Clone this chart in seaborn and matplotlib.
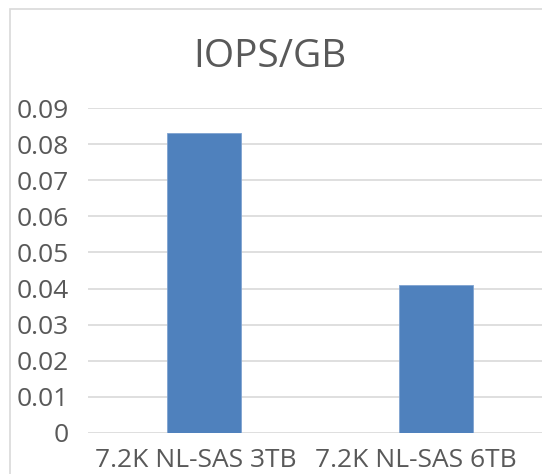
import pandas as pd
import matplotlib
matplotlib.use('Agg')
import matplotlib.pyplot as plt
import matplotlib.transforms as mtransforms
import seaborn as sns
from matplotlib.patches import Rectangle

categories = ['7.2K NL-SAS 3TB', '7.2K NL-SAS 6TB']
iops_per_gb = [0.083, 0.041]
y_ticks = [0, 0.01, 0.02, 0.03, 0.04, 0.05, 0.06, 0.07, 0.08, 0.09]
y_labels = ['0', '0.01', '0.02', '0.03', '0.04', '0.05', '0.06', '0.07', '0.08', '0.09']

data = pd.DataFrame({'Disk': categories, 'IOPS/GB': iops_per_gb})

sns.set_style('white')
plt.rcParams['font.family'] = ['Open Sans', 'DejaVu Sans']
text_color = '#595959'

fig = plt.figure(figsize=(5.42, 4.74), dpi=100)
# chart border (Excel style, cropped on the right/bottom)
fig.patches.append(Rectangle((10 / 542, -0.1), 1.2, 1 - 9 / 474 + 0.1, transform=fig.transFigure,
                             fill=False, edgecolor='#d9d9d9', linewidth=1.2))

ax = fig.add_axes([88 / 542, 1 - 433 / 474, 464 / 542, 325 / 474])
sns.barplot(data=data, x='Disk', y='IOPS/GB', color='#4f81bd', width=0.315,
            saturation=1, edgecolor='#7fa3d0', linewidth=0.6, ax=ax)

ax.set_ylim(0, 0.09)
ax.set_yticks(y_ticks)
ax.set_yticklabels(y_labels)
ax.set_xlim(-0.5, 1.5)
ax.yaxis.grid(True, color='#d9d9d9', linewidth=1.2)
ax.set_axisbelow(True)
for s in ['left', 'right', 'top', 'bottom']:
    ax.spines[s].set_visible(False)
ax.tick_params(axis='y', length=0, pad=14, labelsize=19, labelcolor=text_color)
ax.tick_params(axis='x', length=0, pad=11, labelsize=19, labelcolor=text_color)
ax.set_xlabel('')
ax.set_ylabel('')

# category labels sit a little left of the bars in the original
for lbl, dx in zip(ax.get_xticklabels(), [-8, -20]):
    lbl.set_transform(lbl.get_transform() + mtransforms.ScaledTranslation(dx / 100, 0, fig.dpi_scale_trans))

fig.text(270 / 542, 1 - 57 / 474, 'IOPS/GB', ha='center', va='center',
         fontsize=28, color=text_color)

fig.savefig('out.png', dpi=100)
